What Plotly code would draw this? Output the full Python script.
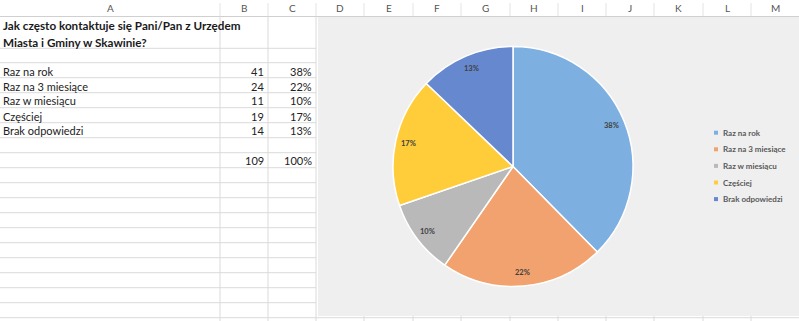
import math
import plotly.graph_objects as go

# ---------------- data ----------------
title_lines = ["Jak często kontaktuje się Pani/Pan z Urzędem", "Miasta i Gminy w Skawinie?"]
categories = ["Raz na rok", "Raz na 3 miesiące", "Raz w miesiącu", "Częściej", "Brak odpowiedzi"]
counts = [41, 24, 11, 19, 14]
column_letters = ["A", "B", "C", "D", "E", "F", "G", "H", "I", "J", "K", "L", "M"]

# ---------------- style / layout constants ----------------
W, H = 799, 321
slice_colors = ["#7db0e1", "#f2a26e", "#b9b9b9", "#ffcc3a", "#6688cf"]
col_edges = [0, 220, 268, 316, 364, 413, 461, 510, 558, 606, 654, 703, 751, 799]
grid_color = "#dadada"
FONT = "Lato"

cx, cy, R = 513, 166.5, 120          # pie centre / radius in pixels
chart_box = (318, 17, 805, 316)


def px(x):
    return x / W


def py(y):
    return 1 - y / H


total = sum(counts)
percents = [round(100 * v / total) for v in counts]

fig = go.Figure()
shapes = []
annotations = []

# chart background
shapes.append(dict(type="rect", xref="paper", yref="paper", layer="below",
                   x0=px(chart_box[0]), x1=px(chart_box[2]), y0=py(chart_box[3]), y1=py(chart_box[1]),
                   fillcolor="#efefef", line=dict(width=0)))

# header row
shapes.append(dict(type="line", xref="paper", yref="paper", layer="below",
                   x0=0, x1=1, y0=py(16.5), y1=py(16.5), line=dict(color="#d0d0d0", width=1)))
for i, letter in enumerate(column_letters):
    a, b = col_edges[i], col_edges[i + 1]
    annotations.append(dict(xref="paper", yref="paper", x=px((a + b) / 2), y=py(8.5),
                            text=letter, showarrow=False, xanchor="center", yanchor="middle",
                            font=dict(family=FONT, size=10, color="#555555")))
    if i > 0:
        shapes.append(dict(type="line", xref="paper", yref="paper", layer="below",
                           x0=px(a), x1=px(a), y0=py(3), y1=py(16), line=dict(color="#e3e3e3", width=1)))

# sheet grid (left)
row_lines = [48.3] + [62.7 + 15 * k for k in range(18)]
for y in row_lines:
    shapes.append(dict(type="line", xref="paper", yref="paper", layer="below",
                       x0=0, x1=px(316), y0=py(y), y1=py(y), line=dict(color=grid_color, width=1)))
for x in col_edges[1:4]:
    shapes.append(dict(type="line", xref="paper", yref="paper", layer="below",
                       x0=px(x), x1=px(x), y0=py(16.5), y1=0, line=dict(color=grid_color, width=1)))
# strip under the chart
shapes.append(dict(type="line", xref="paper", yref="paper", layer="below",
                   x0=px(316), x1=1, y0=py(317.7), y1=py(317.7), line=dict(color=grid_color, width=1)))
for x in col_edges[4:-1]:
    shapes.append(dict(type="line", xref="paper", yref="paper", layer="below",
                       x0=px(x), x1=px(x), y0=py(316), y1=0, line=dict(color=grid_color, width=1)))

# table text
for j, line in enumerate(title_lines):
    annotations.append(dict(xref="paper", yref="paper", x=px(1), y=py(25 + 17 * j),
                            text="<b>" + line + "</b>", showarrow=False, xanchor="left", yanchor="middle",
                            font=dict(family=FONT, size=11.7, color="#1a1a1a")))
for i, (cat, v, p) in enumerate(zip(categories, counts, percents)):
    y = py(71 + 15 * i)
    annotations.append(dict(xref="paper", yref="paper", x=px(1), y=y, text=cat, showarrow=False,
                            xanchor="left", yanchor="middle", font=dict(family=FONT, size=11, color="#222222")))
    annotations.append(dict(xref="paper", yref="paper", x=px(266), y=y, text=str(v), showarrow=False,
                            xanchor="right", yanchor="middle", font=dict(family=FONT, size=11, color="#222222")))
    annotations.append(dict(xref="paper", yref="paper", x=px(314), y=y, text=f"{p}%", showarrow=False,
                            xanchor="right", yanchor="middle", font=dict(family=FONT, size=11, color="#222222")))
annotations.append(dict(xref="paper", yref="paper", x=px(266), y=py(160), text=str(total), showarrow=False,
                        xanchor="right", yanchor="middle", font=dict(family=FONT, size=11, color="#222222")))
annotations.append(dict(xref="paper", yref="paper", x=px(314), y=py(160), text=f"{sum(counts) * 100 // total}%",
                        showarrow=False, xanchor="right", yanchor="middle",
                        font=dict(family=FONT, size=11, color="#222222")))

# pie
fig.add_trace(go.Pie(labels=categories, values=counts, sort=False, direction="clockwise", rotation=0,
                     marker=dict(colors=slice_colors, line=dict(color="white", width=1.5)),
                     textinfo="none", hoverinfo="label+percent", showlegend=False,
                     domain=dict(x=[px(cx - R), px(cx + R)], y=[py(cy + R), py(cy - R)])))

# data labels (placed near the outer edge, like Excel)
cum = 0
for v, p in zip(counts, percents):
    mid = (cum + v / 2) / total * 2 * math.pi
    cum += v
    lx = cx + 0.89 * R * math.sin(mid)
    ly = cy - 0.89 * R * math.cos(mid)
    annotations.append(dict(xref="paper", yref="paper", x=px(lx), y=py(ly), text=f"<b>{p}%</b>",
                            showarrow=False, xanchor="center", yanchor="middle",
                            font=dict(family=FONT, size=7.5, color="#404040")))

# legend (small squares like Excel)
for i, (cat, col) in enumerate(zip(categories, slice_colors)):
    ly = 132.7 + 16.6 * i
    shapes.append(dict(type="rect", xref="paper", yref="paper", x0=px(714), x1=px(718),
                       y0=py(ly + 2), y1=py(ly - 2), fillcolor=col, line=dict(width=0)))
    annotations.append(dict(xref="paper", yref="paper", x=px(721), y=py(ly), text=f"<b>{cat}</b>",
                            showarrow=False, xanchor="left", yanchor="middle",
                            font=dict(family=FONT, size=8, color="#595959")))

fig.update_layout(width=W, height=H, margin=dict(l=0, r=0, t=0, b=0),
                  paper_bgcolor="white", plot_bgcolor="white",
                  shapes=shapes, annotations=annotations, showlegend=False)

fig.write_html("out.html")
